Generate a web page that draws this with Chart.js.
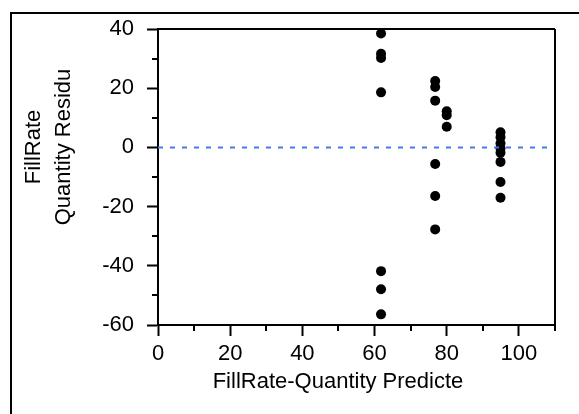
<!DOCTYPE html>
<html>
<head>
<meta charset="utf-8">
<script src="https://cdn.jsdelivr.net/npm/chart.js@4/dist/chart.umd.min.js"></script>
<style>
  html, body { margin: 0; padding: 0; background: #fff; }
  #wrap { position: relative; width: 579px; height: 414px; }
  canvas { position: absolute; left: 0; top: 0; }
</style>
</head>
<body>
<div id="wrap"><canvas id="c" width="579" height="414"></canvas></div>
<script>
// ---- data ----
const predicted = [61.8, 61.8, 61.8, 61.8, 61.8, 61.8, 61.8,
                   76.8, 76.8, 76.8, 76.8, 76.8, 76.8,
                   80.0, 80.0, 80.0,
                   94.9, 94.9, 94.9, 94.9, 94.9, 94.9, 94.9, 94.9];
const residual  = [38.5, 31.6, 30.2, 18.6, -41.8, -47.9, -56.4,
                   22.4, 20.4, 15.8, -5.6, -16.4, -27.7,
                   12.2, 10.9, 7.0,
                   5.1, 3.4, 1.4, -0.3, -1.8, -4.9, -11.7, -17.0];
const refLineX = [0, 110];
const refLineY = [0, 0];
const xMajorTicks = [0, 20, 40, 60, 80, 100];
const xMinorTicks = [10, 30, 50, 70, 90, 110];
const yMajorTicks = [-60, -40, -20, 0, 20, 40];
const yMinorTicks = [-50, -30, -10, 10, 30];
const xTitle = 'FillRate-Quantity Predicte';
const yTitleLines = ['FillRate', 'Quantity Residu'];

const FONT = '"Liberation Sans", Arial, sans-serif';
Chart.defaults.color = '#000';
Chart.defaults.font.family = FONT;

const extras = {
  id: 'extras',
  beforeDraw(chart) {
    const ctx = chart.ctx;
    ctx.save();
    ctx.strokeStyle = '#000';
    ctx.lineWidth = 2;
    ctx.beginPath();
    ctx.moveTo(11, 414);
    ctx.lineTo(11, 13);
    ctx.lineTo(579, 13);
    ctx.stroke();
    ctx.restore();
  },
  afterDraw(chart) {
    const {ctx, chartArea: a, scales: {x, y}} = chart;
    ctx.save();
    ctx.strokeStyle = '#000';
    ctx.lineWidth = 2;
    ctx.beginPath();
    ctx.moveTo(a.left, a.top); ctx.lineTo(a.right, a.top);
    ctx.moveTo(a.right, a.top); ctx.lineTo(a.right, a.bottom);
    xMinorTicks.forEach(v => {
      const px = Math.round(x.getPixelForValue(v));
      ctx.moveTo(px, a.bottom); ctx.lineTo(px, a.bottom + 6);
    });
    yMinorTicks.forEach(v => {
      const py = Math.round(y.getPixelForValue(v));
      ctx.moveTo(a.left - 6, py); ctx.lineTo(a.left, py);
    });
    ctx.stroke();
    // axis titles
    ctx.fillStyle = '#000';
    ctx.font = '22px ' + FONT;
    ctx.textAlign = 'center';
    ctx.textBaseline = 'middle';
    ctx.fillText(xTitle, 338, 382);
    const cy = 147;
    const xs = [34, 64];
    yTitleLines.forEach((t, i) => {
      ctx.save();
      ctx.translate(xs[i], cy);
      ctx.rotate(-Math.PI / 2);
      ctx.fillText(t, 0, 0);
      ctx.restore();
    });
    ctx.restore();
  }
};

new Chart(document.getElementById('c'), {
  type: 'scatter',
  data: {
    datasets: [
      {
        type: 'line',
        data: refLineX.map((v, i) => ({x: v, y: refLineY[i]})),
        borderColor: 'rgb(70,120,235)',
        borderWidth: 2,
        borderDash: [5, 7],
        pointRadius: 0,
        fill: false
      },
      {
        data: predicted.map((v, i) => ({x: v, y: residual[i]})),
        backgroundColor: '#000',
        borderWidth: 0,
        pointRadius: 5,
        pointHoverRadius: 5
      }
    ]
  },
  plugins: [extras],
  options: {
    responsive: false,
    animation: false,
    events: [],
    layout: { padding: { left: 0, top: 29, right: 24, bottom: 0 } },
    plugins: { legend: { display: false }, tooltip: { enabled: false } },
    scales: {
      x: {
        type: 'linear',
        min: 0, max: 110,
        afterBuildTicks: s => { s.ticks = xMajorTicks.map(v => ({value: v})); },
        afterFit: s => { s.height = 89; },
        grid: { display: true, drawOnChartArea: false, drawTicks: true,
                tickLength: 11, tickWidth: 2, tickColor: '#000' },
        border: { display: true, color: '#000', width: 2 },
        ticks: { font: { size: 22 }, padding: 5, maxRotation: 0, autoSkip: false }
      },
      y: {
        type: 'linear',
        min: -60, max: 40,
        afterBuildTicks: s => { s.ticks = yMajorTicks.map(v => ({value: v})); },
        afterFit: s => { s.width = 158; },
        grid: { display: true, drawOnChartArea: false, drawTicks: true,
                tickLength: 11, tickWidth: 2, tickColor: '#000' },
        border: { display: true, color: '#000', width: 2 },
        ticks: { font: { size: 22 }, padding: 13, autoSkip: false }
      }
    }
  }
});
</script>
</body>
</html>
